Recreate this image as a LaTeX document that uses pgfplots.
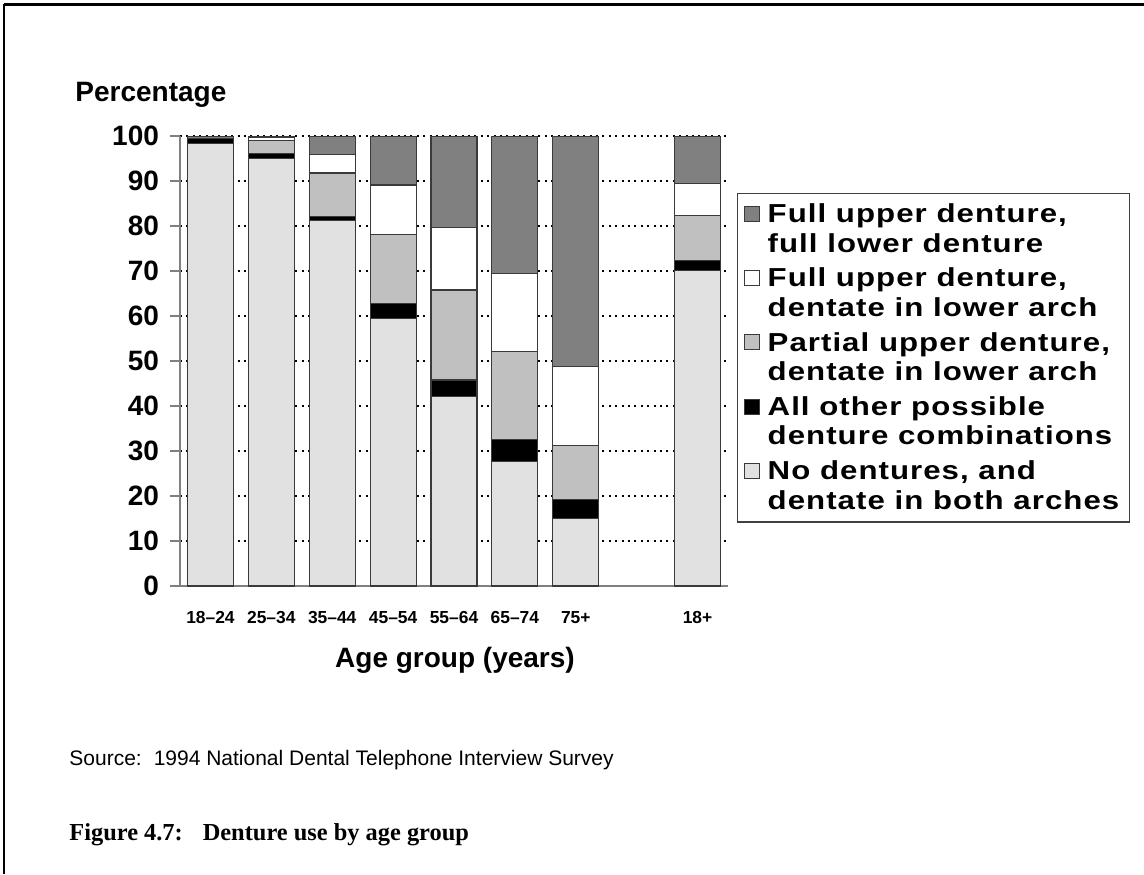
\documentclass[border=0pt]{standalone}
\usepackage{fontspec}
\setmainfont{Liberation Sans}
\newfontfamily\capfont{Liberation Serif}
\newfontfamily\legfont[FakeStretch=1.2, LetterSpace=4]{Liberation Sans Bold}
\usepackage{pgfplots}
\usepackage{pgfplotstable}
\pgfplotsset{compat=1.18}

\definecolor{cFull}{HTML}{808080}
\definecolor{cPart}{HTML}{C0C0C0}
\definecolor{cNone}{HTML}{E1E1E1}
\definecolor{cEdge}{HTML}{3A3A3A}
\definecolor{cAxis}{HTML}{808080}

% percentages by age group (pos 7 left empty as a spacer before the 18+ total)
\pgfplotstableread{
pos none other partial fullup fullboth
0 98.4 1.1 0.0 0.0 0.5
1 95.0 1.2 2.8 0.6 0.4
2 81.2 1.0 9.6 4.1 4.1
3 59.5 3.3 15.3 11.0 10.9
4 42.1 3.7 20.0 13.9 20.3
5 27.6 5.0 19.6 17.3 30.5
6 15.0 4.2 12.1 17.4 51.3
8 70.2 2.1 10.0 7.2 10.5
}\denture

\begin{document}
\begin{tikzpicture}
\path[use as bounding box] (0,0) rectangle (572pt,-437pt);
% page frame
\draw[line width=1.5pt] (2pt,-2pt) -- (572pt,-2pt);
\draw[line width=1pt] (2pt,-2pt) -- (2pt,-437pt);

\begin{axis}[
  at={(90pt,-293pt)}, anchor=south west,
  scale only axis, width=274pt, height=225pt,
  xmin=-0.5, xmax=8.5, ymin=0, ymax=100,
  ybar stacked, bar width=23pt,
  axis x line*=bottom, axis y line*=left,
  axis line style={cAxis, line width=1pt},
  xtick={0,1,2,3,4,5,6,8},
  xticklabels={18--24,25--34,35--44,45--54,55--64,65--74,75+,18+},
  x tick style={draw=none},
  ytick={0,10,...,100},
  tick align=outside, major tick length=5pt,
  y tick style={cAxis, line width=1pt},
  ymajorgrids,
  grid style={black, line width=0.6pt, dash pattern=on 1pt off 2.2pt},
  /pgf/number format/assume math mode=true,
  yticklabel style={font=\bfseries\fontsize{14}{16}\selectfont, xshift=-2pt},
  xticklabel style={font=\bfseries\fontsize{8.7}{10}\selectfont, yshift=-4pt},
  every axis plot/.append style={draw=cEdge, line width=0.6pt},
  reverse legend,
  legend cell align=left,
  legend style={
    at={(1.0164,0.8733)}, anchor=north west,
    draw=black!75, line width=0.7pt,
    font=\legfont\fontsize{13}{14.8}\selectfont,
    cells={align=left, anchor=west},
    row sep=2.4pt, column sep=2pt, inner xsep=3pt, inner ysep=3pt,
  },
  legend image code/.code={
    \draw[#1, line width=0.5pt] (0pt,4pt) rectangle (7.5pt,11.5pt);
  },
]
\addplot[fill=cNone] table[x=pos,y=none] {\denture};
\addplot[fill=black] table[x=pos,y=other] {\denture};
\addplot[fill=cPart] table[x=pos,y=partial] {\denture};
\addplot[fill=white] table[x=pos,y=fullup] {\denture};
\addplot[fill=cFull] table[x=pos,y=fullboth] {\denture};
\legend{{No dentures, and\\dentate in both arches},
        {All other possible\\denture combinations},
        {Partial upper denture,\\dentate in lower arch},
        {Full upper denture,\\dentate in lower arch},
        {Full upper denture,\\full lower denture}}
\end{axis}

\node[anchor=west, inner sep=0pt, font=\bfseries\fontsize{14}{16}\selectfont] at (37.5pt,-47.5pt) {Percentage};
\node[font=\bfseries\fontsize{14}{16}\selectfont] at (227.5pt,-330pt) {Age group (years)};
\node[anchor=west, inner sep=0pt, font=\fontsize{10.5}{12}\selectfont] at (34.5pt,-380pt) {Source:\hspace{6pt}1994 National Dental Telephone Interview Survey};
\node[anchor=west, inner sep=0pt, font=\capfont\bfseries\fontsize{12.2}{14}\selectfont] at (34.5pt,-417.5pt) {Figure 4.7:\hspace{10pt}Denture use by age group};
\end{tikzpicture}
\end{document}
